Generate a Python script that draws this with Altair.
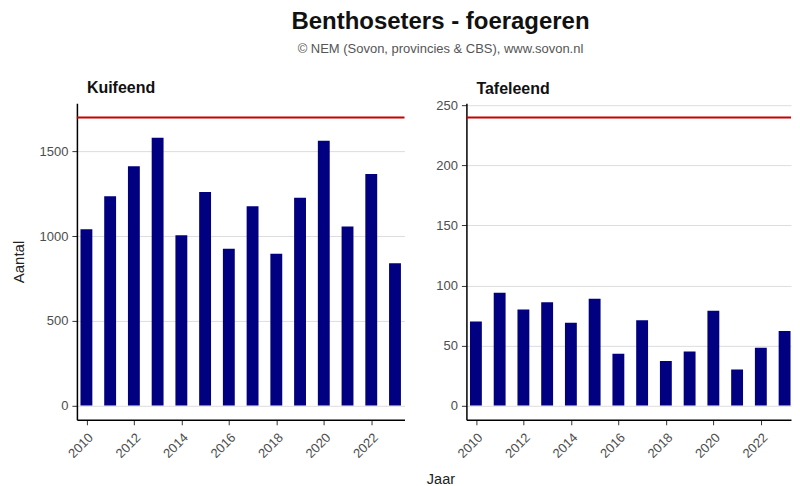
import altair as alt
import pandas as pd

years = list(range(2010, 2024))
kuifeend = [1041, 1235, 1413, 1581, 1005, 1260, 925, 1176, 895, 1227, 1563, 1057, 1367, 840]
tafeleend = [70, 94, 80, 86, 69, 89, 43, 71, 37, 45, 79, 30, 48, 62]
species = ["Kuifeend", "Tafeleend"]
thresholds = [1700, 240]
y_domains = [[-85, 1785], [-12, 252]]
y_ticks = [[0, 500, 1000, 1500], [0, 50, 100, 150, 200, 250]]
x_ticks = list(range(2010, 2023, 2))

FONT = "Liberation Sans"


def panel(name, values, thr, ydom, yt, width, xdom, first, toff):
    df = pd.DataFrame({"Jaar": years, "Aantal": values})
    x_axis = alt.Axis(
        values=x_ticks, format="d", labelAngle=-45, labelAlign="right",
        labelBaseline="top", grid=False, labelPadding=6,
        title="Jaar" if first else "", titleX=364, titleY=53,
        titleFontWeight="normal", titleFontSize=14.5, titleColor="#222222",
    )
    y_axis = alt.Axis(
        values=yt, format="d", grid=True, title="Aantal" if first else "",
        titleFontWeight="normal", titleFontSize=15, titleColor="#222222",
        titlePadding=13, labelPadding=4,
    )
    bars = alt.Chart(df).transform_calculate(
        x0="datum.Jaar - 0.25", x1="datum.Jaar + 0.25"
    ).mark_bar(color="#000080", clip=True).encode(
        x=alt.X("x0:Q", scale=alt.Scale(domain=xdom, nice=False, zero=False), axis=x_axis),
        x2="x1:Q",
        y=alt.Y("Aantal:Q", scale=alt.Scale(domain=ydom, nice=False), axis=y_axis),
        y2=alt.datum(0),
    )
    rule = alt.Chart(pd.DataFrame({"Aantal": [thr]})).mark_rule(
        color="#C80000", strokeWidth=2
    ).encode(y="Aantal:Q")
    return alt.layer(bars, rule).properties(
        width=width, height=317,
        title=alt.TitleParams(name, anchor="start", frame="group", fontSize=16,
                              fontWeight="bold", font=FONT, color="#111111",
                              dx=10, offset=toff),
    )


left = panel(species[0], kuifeend, thresholds[0], y_domains[0], y_ticks[0], 328,
             [2009.6, 2023.4], True, 7)
right = panel(species[1], tafeleend, thresholds[1], y_domains[1], y_ticks[1], 325,
              [2009.6, 2023.27], False, 3)

chart = alt.hconcat(left, right, spacing=62, bounds="flush").properties(
    title=alt.TitleParams(
        "Benthoseters - foerageren",
        subtitle="© NEM (Sovon, provincies & CBS), www.sovon.nl",
        anchor="middle", fontSize=24, fontWeight="bold", font=FONT, color="#111111",
        subtitleFont=FONT, subtitleFontSize=13, subtitleColor="#555555",
        subtitlePadding=9, offset=24, dx=39,
    ),
    padding={"left": 3, "top": 2, "right": 0, "bottom": 0},
).configure_view(stroke=None).configure_axis(
    domainColor="#000000", domainWidth=1.5, tickColor="#333333", tickSize=5,
    labelColor="#4D4D4D", labelFontSize=13, labelFont=FONT, titleFont=FONT,
    gridColor="#DDDDDD", gridWidth=1,
)

chart.save("out.html", embed_options={"renderer": "svg", "actions": False})
